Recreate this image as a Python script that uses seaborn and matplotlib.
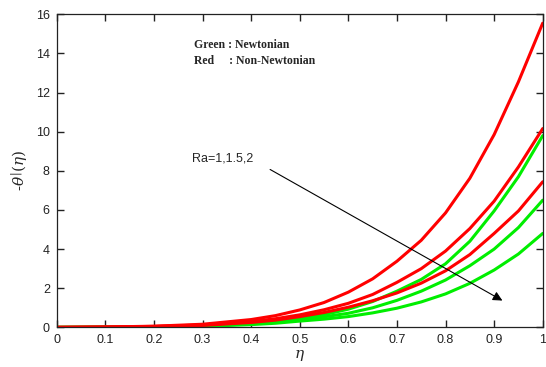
import numpy as np
import pandas as pd
import matplotlib
matplotlib.use("Agg")
import matplotlib.pyplot as plt
import seaborn as sns

# valores
eta = [0, 0.1, 0.2, 0.3, 0.4, 0.45, 0.5, 0.55, 0.6, 0.65, 0.7, 0.75, 0.8, 0.85, 0.9, 0.95, 1.0]

red_ra1 = [0, 0.02, 0.06, 0.16, 0.40, 0.60, 0.89, 1.27, 1.80, 2.48, 3.38, 4.45, 5.85, 7.62, 9.85, 12.55, 15.55]
red_ra15 = [0, 0.015, 0.05, 0.12, 0.30, 0.44, 0.64, 0.90, 1.23, 1.68, 2.30, 3.00, 3.90, 5.05, 6.45, 8.20, 10.16]
red_ra2 = [0, 0.01, 0.04, 0.10, 0.25, 0.37, 0.55, 0.76, 1.03, 1.36, 1.76, 2.26, 2.89, 3.72, 4.80, 5.95, 7.44]

green_ra1 = [0, 0.01, 0.03, 0.08, 0.20, 0.30, 0.45, 0.65, 0.93, 1.32, 1.85, 2.45, 3.25, 4.40, 5.95, 7.70, 9.80]
green_ra15 = [0, 0.01, 0.03, 0.07, 0.18, 0.27, 0.40, 0.54, 0.72, 1.00, 1.38, 1.85, 2.42, 3.15, 4.00, 5.10, 6.50]
green_ra2 = [0, 0.01, 0.02, 0.05, 0.14, 0.21, 0.32, 0.42, 0.55, 0.74, 0.98, 1.30, 1.71, 2.25, 2.93, 3.75, 4.80]

xticks = [0, 0.1, 0.2, 0.3, 0.4, 0.5, 0.6, 0.7, 0.8, 0.9, 1]
yticks = [0, 2, 4, 6, 8, 10, 12, 14, 16]

sns.set_style("ticks")
plt.rcParams['font.family'] = ['Liberation Sans', 'DejaVu Sans']
plt.rcParams['mathtext.fontset'] = 'dejavuserif'

fig = plt.figure(figsize=(5.46, 3.67), dpi=100)
ax = fig.add_axes([0.104, 0.108, 0.89, 0.853])

verde = '#00ee00'
rojo = '#ff0000'
for serie in [green_ra1, green_ra15, green_ra2]:
    sns.lineplot(x=eta, y=serie, color=verde, linewidth=2.2, ax=ax)
for serie in [red_ra1, red_ra15, red_ra2]:
    sns.lineplot(x=eta, y=serie, color=rojo, linewidth=2.2, ax=ax)

ax.set_xlim(0, 1)
ax.set_ylim(0, 16)
ax.set_xticks(xticks)
ax.set_xticklabels([f"{t:g}" for t in xticks])
ax.set_yticks(yticks)
ax.tick_params(direction='in', top=True, right=True, length=5, width=1.0,
               labelsize=9, colors='#222222', pad=5)
for s in ax.spines.values():
    s.set_linewidth(0.9)
    s.set_color('#222222')

ax.set_xlabel(r'$\eta$', fontsize=11, labelpad=1)
ax.set_ylabel(r'-$\theta^{|}(\eta)$', fontsize=11, labelpad=4)

ax.text(0.283, 14.45, 'Green : Newtonian', fontsize=8.5, fontweight='bold',
        family='Liberation Serif', va='center')
ax.text(0.283, 13.6, 'Red     : Non-Newtonian', fontsize=8.5, fontweight='bold',
        family='Liberation Serif', va='center')

ax.annotate('', xy=(0.922, 1.3), xytext=(0.434, 8.14),
            arrowprops=dict(arrowstyle='-|>', color='black', lw=0.8, mutation_scale=14))
ax.text(0.278, 8.65, 'Ra=1,1.5,2', fontsize=9, va='center')

fig.savefig('out.png', dpi=100)
